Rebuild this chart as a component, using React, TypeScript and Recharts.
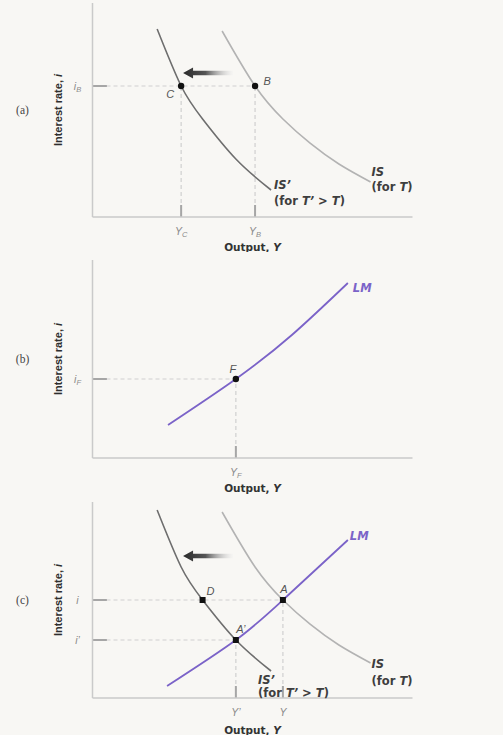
import React from 'react';
import { LineChart, Line, XAxis, YAxis, ReferenceLine, ReferenceDot, Label } from 'recharts';

type Pt = { x: number; y: number };
type Named = Pt & { name: string };

// Output (x) against interest rate (y), both in arbitrary units
const IS_FOR_T: Pt[] = [
  { x: 40.5, y: 93 },
  { x: 50.8, y: 65.5 },
  { x: 59.5, y: 49 },
  { x: 68, y: 36.9 },
  { x: 77, y: 26.5 },
  { x: 86.9, y: 17.5 },
];
const IS_FOR_T_PRIME: Pt[] = [
  { x: 20.2, y: 94 },
  { x: 27.7, y: 65.5 },
  { x: 34.4, y: 49 },
  { x: 44.8, y: 29 },
  { x: 55.8, y: 13.5 },
];
const LM_PANEL_B: Pt[] = [
  { x: 23.6, y: 16.5 },
  { x: 44.8, y: 39.5 },
  { x: 62.3, y: 61.5 },
  { x: 79.8, y: 87.5 },
];
const LM_PANEL_C: Pt[] = [
  { x: 23.3, y: 6 },
  { x: 44.8, y: 29 },
  { x: 59.5, y: 49 },
  { x: 79.8, y: 79 },
];

const POINTS_A: Named[] = [
  { name: 'C', x: 27.7, y: 65.5 },
  { name: 'B', x: 50.8, y: 65.5 },
];
const POINTS_B: Named[] = [{ name: 'F', x: 44.8, y: 39.5 }];
const POINTS_C: Named[] = [
  { name: 'D', x: 34.4, y: 49 },
  { name: 'A', x: 59.5, y: 49 },
  { name: 'A’', x: 44.8, y: 29 },
];

const X_TICKS_A = [27.7, 50.8];
const X_TICK_LABELS_A = [['Y', 'C'], ['Y', 'B']];
const Y_TICKS_A = [65.5];
const Y_TICK_LABELS_A = [['i', 'B']];

const X_TICKS_B = [44.8];
const X_TICK_LABELS_B = [['Y', 'F']];
const Y_TICKS_B = [39.5];
const Y_TICK_LABELS_B = [['i', 'F']];

const X_TICKS_C = [44.8, 59.5];
const X_TICK_LABELS_C = [['Y’', ''], ['Y', '']];
const Y_TICKS_C = [49, 29];
const Y_TICK_LABELS_C = [['i', ''], ['i’', '']];

// leftward shift of IS: tail, head
const SHIFT_A: Pt[] = [{ x: 43.9, y: 72 }, { x: 28.3, y: 72 }];
const SHIFT_C: Pt[] = [{ x: 43.9, y: 71 }, { x: 28.3, y: 71 }];

const BG = '#f8f7f4';
const AXIS = '#cacaca';
const GUIDE = '#d0d0d0';
const TICK_MARK = '#a6a6a6';
const TICK_TEXT = '#8a8a8a';
const TEXT = '#3e3e3e';
const IS_COLOR = '#b3b3b3';
const IS_PRIME_COLOR = '#6e6e6e';
const LM_COLOR = '#7b63c8';
const SANS = '"Liberation Sans", Arial, sans-serif';
const WIDE = '"DejaVu Sans", sans-serif';

// offsets of the point letters from their dots
const POINT_LABEL_OFFSET: Record<string, [number, number]> = {
  C: [-11, 12],
  B: [12, -1],
  F: [-3, -6],
  D: [8, -5],
  A: [1, -7],
  'A’': [5, -7],
};

type CurveLabel = { lines: React.ReactNode[]; dx: number; dy: number; color: string; gap: number };
type Curve = { key: string; data: Pt[]; color: string; width: number; label: CurveLabel };

const isLabel = (dx: number, dy: number, gap: number): CurveLabel => ({
  lines: [
    <tspan fontStyle="italic">IS</tspan>,
    <>(for <tspan fontStyle="italic">T</tspan>)</>,
  ],
  dx, dy, gap, color: TEXT,
});
const isPrimeLabel = (dx: number, dy: number, gap: number): CurveLabel => ({
  lines: [
    <tspan fontStyle="italic">IS’</tspan>,
    <>(for <tspan fontStyle="italic">T’</tspan> &gt; <tspan fontStyle="italic">T</tspan>)</>,
  ],
  dx, dy, gap, color: TEXT,
});
const lmLabel = (dx: number, dy: number): CurveLabel => ({
  lines: [<tspan fontStyle="italic">LM</tspan>],
  dx, dy, gap: 0, color: LM_COLOR,
});

const ShiftArrow = (props: any) => {
  const { x1, y1, x2, y2, gid } = props;
  const head = 10;
  const half = 5.5;
  const shaft = 2.3;
  const baseX = x2 + head;
  return (
    <g>
      <defs>
        <linearGradient id={gid} gradientUnits="userSpaceOnUse" x1={x2} y1={0} x2={x1} y2={0}>
          <stop offset="0" stopColor="#2a2a2a" />
          <stop offset="0.45" stopColor="#555" />
          <stop offset="1" stopColor="#f0f0f0" stopOpacity={0.3} />
        </linearGradient>
      </defs>
      <path
        d={`M${x2},${y2} L${baseX},${y2 - half} L${baseX},${y2 - shaft} L${x1},${y1 - shaft} L${x1},${y1 + shaft} L${baseX},${y2 + shaft} L${baseX},${y2 + half} Z`}
        fill={`url(#${gid})`}
      />
    </g>
  );
};

const Marker = (props: any) => {
  const { cx, cy, name, square } = props;
  const [dx, dy] = POINT_LABEL_OFFSET[name] ?? [0, 0];
  return (
    <g>
      {square ? (
        <rect x={cx - 3} y={cy - 3} width={6} height={6} fill="#111" />
      ) : (
        <circle cx={cx} cy={cy} r={3.2} fill="#111" />
      )}
      <text x={cx + dx} y={cy + dy} textAnchor="middle" fontFamily={SANS} fontSize={11} fontStyle="italic" fill="#555">
        {name}
      </text>
    </g>
  );
};

const CurveText = (props: any) => {
  const { cx, cy, label } = props as { cx: number; cy: number; label: CurveLabel };
  return (
    <text fontFamily={WIDE} fontSize={11.5} fontWeight="bold" fill={label.color}>
      {label.lines.map((line, i) => (
        <tspan key={i} x={cx + label.dx} y={cy + label.dy + i * label.gap + 4}>
          {line}
        </tspan>
      ))}
    </text>
  );
};

const makeXTick = (values: number[], labels: string[][]) => (props: any) => {
  const { x, y, payload } = props;
  const i = values.indexOf(payload.value);
  const [main, sub] = labels[i] ?? ['', ''];
  return (
    <text x={x} y={y + 18} textAnchor="middle" fontFamily={SANS} fontSize={10.5} fontStyle="italic" fill={TICK_TEXT}>
      {main}
      {sub ? <tspan fontSize={7.5} dy={2}>{sub}</tspan> : null}
    </text>
  );
};

const makeYTick = (values: number[], labels: string[][]) => (props: any) => {
  const { x, y, payload } = props;
  const i = values.indexOf(payload.value);
  const [main, sub] = labels[i] ?? ['', ''];
  return (
    <text x={x - 15} y={y + 4} textAnchor="middle" fontFamily={SANS} fontSize={10.5} fontStyle="italic" fill={TICK_TEXT}>
      {main}
      {sub ? <tspan fontSize={7.5} dy={2}>{sub}</tspan> : null}
    </text>
  );
};

interface PanelProps {
  tag: string;
  top: number;
  height: number;
  marginTop: number;
  marginBottom: number;
  yMax: number;
  titleGap: number;
  curves: Curve[];
  points: Named[];
  squareDots?: boolean;
  xTicks: number[];
  xTickLabels: string[][];
  yTicks: number[];
  yTickLabels: string[][];
  shift?: Pt[];
}

const Panel: React.FC<PanelProps> = (p) => {
  const gid = `shift-${p.tag}`;
  // dashed guides run from each marked point back to the axes
  const verticals = p.xTicks.map((v) => ({ x: v, y: Math.max(...p.points.filter((q) => q.x === v).map((q) => q.y)) }));
  const horizontals = p.yTicks.map((v) => ({ y: v, x: Math.max(...p.points.filter((q) => q.y === v).map((q) => q.x)) }));

  return (
    <div style={{ position: 'absolute', left: 0, top: p.top }}>
      <LineChart
        width={503}
        height={p.height}
        margin={{ top: p.marginTop, right: 90.5, bottom: p.marginBottom, left: 32.5 }}
      >
        <XAxis
          type="number"
          dataKey="x"
          domain={[0, 100]}
          allowDataOverflow
          ticks={p.xTicks}
          tick={makeXTick(p.xTicks, p.xTickLabels)}
          tickLine={false}
          tickSize={0}
          tickMargin={0}
          axisLine={{ stroke: AXIS, strokeWidth: 1.5 }}
        >
          <Label
            content={(lp: any) => {
              const vb = lp.viewBox;
              return (
                <text x={vb.x + vb.width / 2} y={vb.y + p.titleGap + 4} textAnchor="middle" fontFamily={WIDE} fontSize={10.5} fontWeight="bold" fill="#333">
                  Output, <tspan fontStyle="italic">Y</tspan>
                </text>
              );
            }}
          />
        </XAxis>
        <YAxis
          type="number"
          domain={[0, p.yMax]}
          allowDataOverflow
          ticks={p.yTicks}
          tick={makeYTick(p.yTicks, p.yTickLabels)}
          tickLine={false}
          tickSize={0}
          tickMargin={0}
          axisLine={{ stroke: AXIS, strokeWidth: 1.5 }}
        >
          <Label
            content={(lp: any) => {
              const vb = lp.viewBox;
              const axisX = vb.x + vb.width;
              const cy = vb.y + vb.height / 2;
              const lx = axisX - 35;
              return (
                <g>
                  <text
                    x={lx}
                    y={cy}
                    transform={`rotate(-90 ${lx} ${cy})`}
                    textAnchor="middle"
                    dominantBaseline="central"
                    fontFamily={SANS}
                    fontSize={11}
                    fontWeight="bold"
                    fill="#2e2e2e"
                  >
                    Interest rate, <tspan fontStyle="italic">i</tspan>
                  </text>
                  <text x={axisX - 70} y={cy + 4} textAnchor="middle" fontFamily='"Liberation Serif", serif' fontSize={11.5} fill="#444">
                    ({p.tag})
                  </text>
                </g>
              );
            }}
          />
        </YAxis>

        {horizontals.map((h) => (
          <ReferenceLine key={`h${h.y}`} segment={[{ x: 0, y: h.y }, { x: h.x, y: h.y }]} stroke={GUIDE} strokeWidth={1.2} strokeDasharray="4 3" />
        ))}
        {verticals.map((v) => (
          <ReferenceLine key={`v${v.x}`} segment={[{ x: v.x, y: 0 }, { x: v.x, y: v.y }]} stroke={GUIDE} strokeWidth={1.2} strokeDasharray="4 3" />
        ))}
        {p.yTicks.map((v) => (
          <ReferenceLine key={`yt${v}`} segment={[{ x: 0, y: v }, { x: 4.5, y: v }]} stroke={TICK_MARK} strokeWidth={2} />
        ))}
        {p.xTicks.map((v) => (
          <ReferenceLine key={`xt${v}`} segment={[{ x: v, y: 0 }, { x: v, y: 6 }]} stroke={TICK_MARK} strokeWidth={2} />
        ))}

        {p.curves.map((c) => (
          <Line
            key={c.key}
            data={c.data}
            dataKey="y"
            type="natural"
            stroke={c.color}
            strokeWidth={c.width}
            dot={false}
            activeDot={false}
            isAnimationActive={false}
          />
        ))}

        {p.shift && (
          <ReferenceLine segment={p.shift} shape={(sp: any) => <ShiftArrow {...sp} gid={gid} />} />
        )}

        {p.curves.map((c) => {
          const end = c.data[c.data.length - 1];
          return (
            <ReferenceDot
              key={`lbl-${c.key}`}
              x={end.x}
              y={end.y}
              r={0}
              shape={(dp: any) => <CurveText {...dp} label={c.label} />}
            />
          );
        })}

        {p.points.map((pt) => (
          <ReferenceDot
            key={pt.name}
            x={pt.x}
            y={pt.y}
            r={3}
            shape={(dp: any) => <Marker {...dp} name={pt.name} square={p.squareDots} />}
          />
        ))}
      </LineChart>
    </div>
  );
};

export default function App() {
  return (
    <div style={{ position: 'absolute', left: 0, top: 0, width: 503, height: 735, background: BG, overflow: 'hidden' }}>
      <Panel
        tag="a"
        top={0}
        height={252}
        marginTop={3}
        marginBottom={5}
        yMax={107}
        titleGap={30}
        curves={[
          { key: 'isPrime', data: IS_FOR_T_PRIME, color: IS_PRIME_COLOR, width: 1.6, label: isPrimeLabel(3, -5, 16) },
          { key: 'is', data: IS_FOR_T, color: IS_COLOR, width: 1.6, label: isLabel(1, -10, 15) },
        ]}
        points={POINTS_A}
        xTicks={X_TICKS_A}
        xTickLabels={X_TICK_LABELS_A}
        yTicks={Y_TICKS_A}
        yTickLabels={Y_TICK_LABELS_A}
        shift={SHIFT_A}
      />
      <Panel
        tag="b"
        top={252}
        height={242}
        marginTop={8}
        marginBottom={6}
        yMax={99}
        titleGap={30}
        curves={[{ key: 'lm', data: LM_PANEL_B, color: LM_COLOR, width: 1.8, label: lmLabel(5, 5) }]}
        points={POINTS_B}
        xTicks={X_TICKS_B}
        xTickLabels={X_TICK_LABELS_B}
        yTicks={Y_TICKS_B}
        yTickLabels={Y_TICK_LABELS_B}
      />
      <Panel
        tag="c"
        top={494}
        height={241}
        marginTop={8}
        marginBottom={7}
        yMax={98}
        titleGap={32}
        squareDots
        curves={[
          { key: 'isPrime', data: IS_FOR_T_PRIME, color: IS_PRIME_COLOR, width: 1.6, label: isPrimeLabel(-13, 9, 13) },
          { key: 'is', data: IS_FOR_T, color: IS_COLOR, width: 1.6, label: isLabel(1, 1, 17) },
          { key: 'lm', data: LM_PANEL_C, color: LM_COLOR, width: 1.8, label: lmLabel(2, -4) },
        ]}
        points={POINTS_C}
        xTicks={X_TICKS_C}
        xTickLabels={X_TICK_LABELS_C}
        yTicks={Y_TICKS_C}
        yTickLabels={Y_TICK_LABELS_C}
        shift={SHIFT_C}
      />
    </div>
  );
}
